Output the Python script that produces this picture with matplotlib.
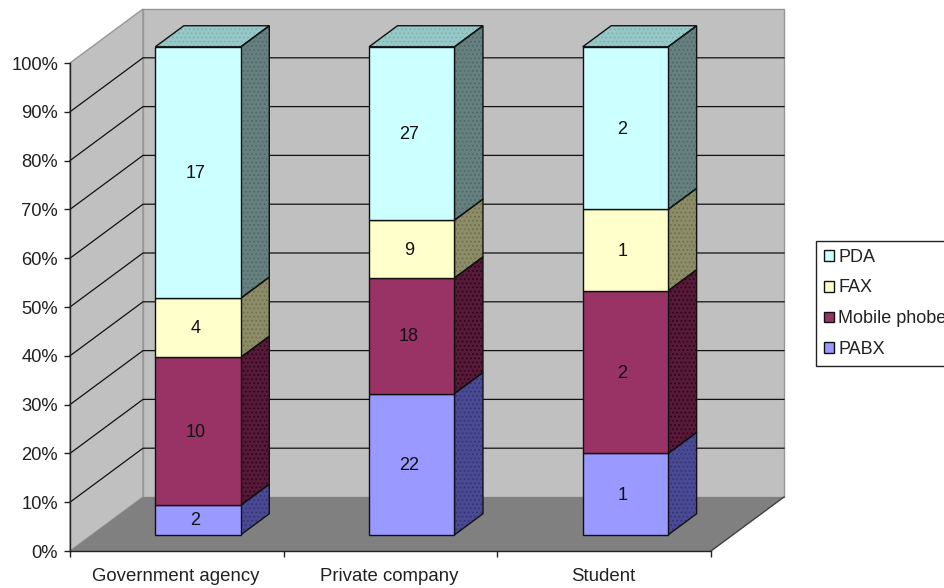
import numpy as np
import matplotlib
matplotlib.use("Agg")
import matplotlib.pyplot as plt
from matplotlib.patches import Polygon, Patch

plt.rcParams['font.family'] = ['Liberation Sans', 'DejaVu Sans']
plt.rcParams['hatch.linewidth'] = 0.7

categories = ["Government agency", "Private company", "Student"]
series_names = ["PABX", "Mobile phobe", "FAX", "PDA"]
pabx = [2, 22, 1]
mobile = [10, 18, 2]
fax = [4, 9, 1]
pda = [17, 27, 2]
yticks = [0, 10, 20, 30, 40, 50, 60, 70, 80, 90, 100]

# colores: frente, lado, trama del lado, tapa
front = ["#9999FF", "#993366", "#FFFFCC", "#CCFFFF"]
side = ["#4A4A94", "#551A38", "#8C8C66", "#668080"]
side_hatch = ["#333373", "#33001A", "#6E6E50", "#4D6666"]
top_col = "#96C8C8"
top_hatch = "#80B0B0"

W, H = 945, 588
fig = plt.figure(figsize=(W / 100, H / 100), dpi=100, facecolor="white")
ax = fig.add_axes([70 / W, 1 - 551 / H, 641 / W, 488 / H])
ax.set_xlim(0, 3)
ax.set_ylim(0, 100)
ax.patch.set_visible(False)

# desplazamiento de la profundidad en unidades de datos
DX = 73 / (641 / 3)
DY = 54 / 4.88


def proj(x, y, d):
    return (x + d * DX, y + d * DY)


def poly(pts, fc, ec="none", lw=0.0, z=1, hatch=None):
    ax.add_patch(Polygon(pts, closed=True, facecolor=fc, edgecolor=ec, linewidth=lw,
                         zorder=z, hatch=hatch, clip_on=False))


# paredes y piso
poly([proj(0, 0, 0), proj(0, 0, 1), proj(0, 100, 1), proj(0, 100, 0)], "#C0C0C0", "#969696", 1.0)
poly([proj(0, 0, 1), proj(3, 0, 1), proj(3, 100, 1), proj(0, 100, 1)], "#C0C0C0", "#969696", 1.0)
poly([proj(0, 0, 0), proj(3, 0, 0), proj(3, 0, 1), proj(0, 0, 1)], "#808080", z=1.2)
ax.plot(*zip(proj(3, 0, 0), proj(3, 0, 1)), color="#404040", lw=1.0, zorder=1.3, clip_on=False)

# lineas de la grilla
for t in yticks[1:-1]:
    pts = [proj(0, t, 0), proj(0, t, 1), proj(3, t, 1)]
    ax.plot(*zip(*pts), color="#111111", lw=0.9, zorder=1.5, clip_on=False)

# barras apiladas al 100%
values = np.array([pabx, mobile, fax, pda], dtype=float)
perc = values / values.sum(axis=0) * 100
d0, d1 = 0.30, 0.69
bw = 0.40
edge = "#111111"

for i in range(len(categories)):
    x0 = i + 0.497 - bw / 2
    x1 = i + 0.497 + bw / 2
    bottom = 0
    for s in range(len(series_names)):
        y0, y1 = bottom, bottom + perc[s, i]
        f = [proj(x0, y0, d0), proj(x1, y0, d0), proj(x1, y1, d0), proj(x0, y1, d0)]
        l = [proj(x1, y0, d0), proj(x1, y0, d1), proj(x1, y1, d1), proj(x1, y1, d0)]
        poly(l, side[s], side_hatch[s], 0, z=3, hatch="....")
        poly(l, "none", edge, 1.0, z=3.1)
        poly(f, front[s], edge, 1.0, z=3.2)
        # la etiqueta va un poco a la izquierda del centro, como en el original
        ax.annotate("%d" % values[s, i], xy=proj(i + 0.5, (y0 + y1) / 2, d0),
                    xytext=(-2.5, -0.7), textcoords="offset points",
                    ha="center", va="center", fontsize=13, color="#111111", zorder=4)
        bottom = y1
    t = [proj(x0, 100, d0), proj(x1, 100, d0), proj(x1, 100, d1), proj(x0, 100, d1)]
    poly(t, top_col, top_hatch, 0, z=3, hatch="....")
    poly(t, "none", edge, 1.0, z=3.1)

# ejes
for sp in ["top", "right"]:
    ax.spines[sp].set_visible(False)
for sp in ["left", "bottom"]:
    ax.spines[sp].set_color("#222222")
    ax.spines[sp].set_linewidth(1.0)
    ax.spines[sp].set_zorder(2)

ax.set_yticks(yticks)
ax.set_yticklabels(["%d%%" % t for t in yticks])
ax.set_xticks(range(len(categories) + 1))
ax.set_xticklabels([])
ax.set_xticks(np.arange(len(categories)) + 0.495, categories, minor=True)
ax.tick_params(axis="x", which="major", length=4, width=1.0, color="#222222")
ax.tick_params(axis="x", which="minor", length=0, pad=12.5, labelsize=13.4, labelcolor="#222222")
ax.tick_params(axis="y", length=4, width=1.0, color="#222222", labelsize=13.2, pad=4.5, labelcolor="#222222")

# leyenda (queda cortada por el borde, igual que el original)
handles = [Patch(facecolor=front[s], edgecolor=edge, linewidth=1.0, label=series_names[s])
           for s in range(3, -1, -1)]
leg = fig.legend(handles=handles, loc="upper left", bbox_to_anchor=(816 / W, 1 - 241 / H),
                 bbox_transform=fig.transFigure, borderaxespad=0, fontsize=13,
                 handlelength=0.55, handleheight=0.55, handletextpad=0.25,
                 labelspacing=0.77, borderpad=0.42, fancybox=False, framealpha=1,
                 edgecolor="#222222", labelcolor="#222222")
leg.get_frame().set_linewidth(1.0)

fig.savefig("out.png", dpi=100)
